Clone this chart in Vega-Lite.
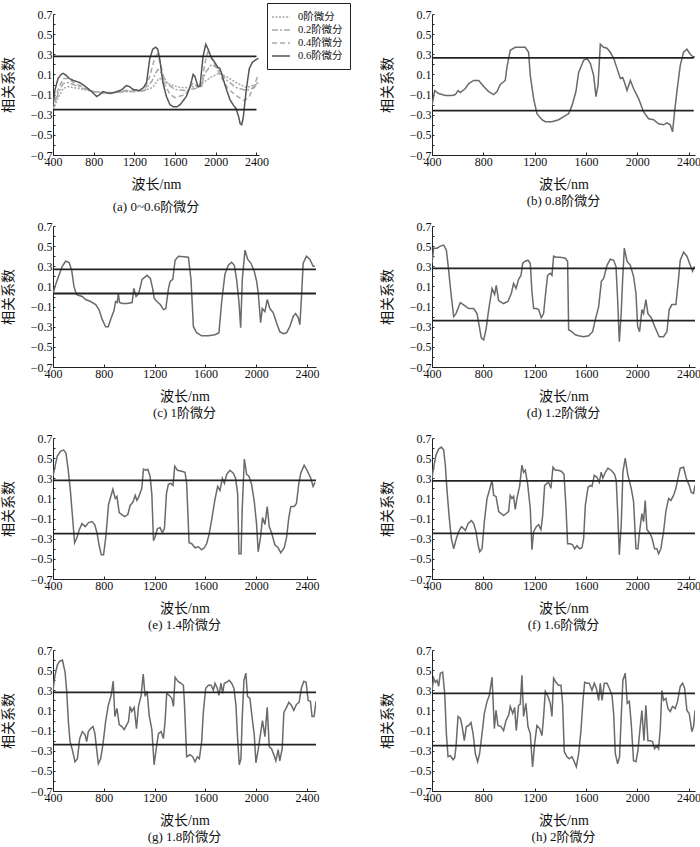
{
  "$schema": "https://vega.github.io/schema/vega-lite/v6.json",
  "background": "white",
  "padding": {"left": 1, "top": 2, "right": 2, "bottom": 1},
  "config": {
    "view": {"stroke": null},
    "font": "Liberation Serif, Noto Sans CJK SC",
    "axis": {"grid": false, "domainColor": "#222", "tickColor": "#222", "labelFont": "Liberation Serif", "labelFontSize": 12, "labelColor": "#111", "titleFont": "Liberation Serif, Noto Sans CJK SC", "titleFontSize": 14, "titleFontWeight": "normal", "titleColor": "#111", "domainWidth": 1, "labelOverlap": false, "tickCount": 20},
    "title": {"font": "Liberation Serif, Noto Sans CJK SC", "fontSize": 13, "fontWeight": "normal", "orient": "bottom", "anchor": "middle", "color": "#111", "offset": 4},
    "line": {"color": "#6a6a6a", "strokeWidth": 1.5, "clip": true},
    "rule": {"color": "#222", "strokeWidth": 1.8}
  },
  "datasets": {
    "th": [
      {"p": "a", "x0": 400, "x1": 2400, "y": 0.28}, {"p": "a", "x0": 400, "x1": 2400, "y": -0.25},
      {"p": "b", "x0": 400, "x1": 2440, "y": 0.265}, {"p": "b", "x0": 400, "x1": 2440, "y": -0.26},
      {"p": "c", "x0": 400, "x1": 2470, "y": 0.27}, {"p": "c", "x0": 400, "x1": 2470, "y": 0.03},
      {"p": "d", "x0": 400, "x1": 2450, "y": 0.28}, {"p": "d", "x0": 400, "x1": 2450, "y": -0.24},
      {"p": "e", "x0": 400, "x1": 2470, "y": 0.28}, {"p": "e", "x0": 400, "x1": 2470, "y": -0.25},
      {"p": "f", "x0": 400, "x1": 2450, "y": 0.275}, {"p": "f", "x0": 400, "x1": 2450, "y": -0.247},
      {"p": "g", "x0": 400, "x1": 2470, "y": 0.28}, {"p": "g", "x0": 400, "x1": 2470, "y": -0.24},
      {"p": "h", "x0": 400, "x1": 2450, "y": 0.27}, {"p": "h", "x0": 400, "x1": 2450, "y": -0.25}
    ],
    "a": [
      {"s": "0阶微分", "x": 400, "y": -0.25}, {"s": "0阶微分", "x": 450, "y": -0.13}, {"s": "0阶微分", "x": 500, "y": -0.04}, {"s": "0阶微分", "x": 550, "y": -0.02}, {"s": "0阶微分", "x": 600, "y": -0.03}, {"s": "0阶微分", "x": 700, "y": -0.05}, {"s": "0阶微分", "x": 800, "y": -0.07}, {"s": "0阶微分", "x": 900, "y": -0.08}, {"s": "0阶微分", "x": 1000, "y": -0.08}, {"s": "0阶微分", "x": 1100, "y": -0.07}, {"s": "0阶微分", "x": 1200, "y": -0.07}, {"s": "0阶微分", "x": 1300, "y": -0.06}, {"s": "0阶微分", "x": 1380, "y": -0.03}, {"s": "0阶微分", "x": 1440, "y": 0.06}, {"s": "0阶微分", "x": 1480, "y": 0.05}, {"s": "0阶微分", "x": 1550, "y": 0.0}, {"s": "0阶微分", "x": 1650, "y": -0.03}, {"s": "0阶微分", "x": 1750, "y": -0.03}, {"s": "0阶微分", "x": 1850, "y": 0.0}, {"s": "0阶微分", "x": 1950, "y": 0.07}, {"s": "0阶微分", "x": 2030, "y": 0.11}, {"s": "0阶微分", "x": 2100, "y": 0.08}, {"s": "0阶微分", "x": 2200, "y": 0.02}, {"s": "0阶微分", "x": 2300, "y": -0.03}, {"s": "0阶微分", "x": 2400, "y": 0.0}, {"s": "0阶微分", "x": 2420, "y": 0.01},
      {"s": "0.2阶微分", "x": 400, "y": -0.25}, {"s": "0.2阶微分", "x": 450, "y": -0.09}, {"s": "0.2阶微分", "x": 500, "y": 0.01}, {"s": "0.2阶微分", "x": 550, "y": 0.02}, {"s": "0.2阶微分", "x": 600, "y": 0.0}, {"s": "0.2阶微分", "x": 700, "y": -0.04}, {"s": "0.2阶微分", "x": 800, "y": -0.07}, {"s": "0.2阶微分", "x": 900, "y": -0.08}, {"s": "0.2阶微分", "x": 1000, "y": -0.08}, {"s": "0.2阶微分", "x": 1100, "y": -0.07}, {"s": "0.2阶微分", "x": 1200, "y": -0.07}, {"s": "0.2阶微分", "x": 1300, "y": -0.06}, {"s": "0.2阶微分", "x": 1370, "y": 0.03}, {"s": "0.2阶微分", "x": 1430, "y": 0.15}, {"s": "0.2阶微分", "x": 1470, "y": 0.11}, {"s": "0.2阶微分", "x": 1530, "y": 0.0}, {"s": "0.2阶微分", "x": 1600, "y": -0.05}, {"s": "0.2阶微分", "x": 1700, "y": -0.06}, {"s": "0.2阶微分", "x": 1800, "y": -0.04}, {"s": "0.2阶微分", "x": 1860, "y": 0.0}, {"s": "0.2阶微分", "x": 1900, "y": 0.12}, {"s": "0.2阶微分", "x": 1960, "y": 0.2}, {"s": "0.2阶微分", "x": 2020, "y": 0.16}, {"s": "0.2阶微分", "x": 2100, "y": 0.05}, {"s": "0.2阶微分", "x": 2200, "y": -0.03}, {"s": "0.2阶微分", "x": 2300, "y": -0.06}, {"s": "0.2阶微分", "x": 2380, "y": -0.03}, {"s": "0.2阶微分", "x": 2420, "y": 0.04},
      {"s": "0.4阶微分", "x": 400, "y": -0.24}, {"s": "0.4阶微分", "x": 450, "y": -0.05}, {"s": "0.4阶微分", "x": 500, "y": 0.06}, {"s": "0.4阶微分", "x": 550, "y": 0.06}, {"s": "0.4阶微分", "x": 600, "y": 0.02}, {"s": "0.4阶微分", "x": 700, "y": -0.03}, {"s": "0.4阶微分", "x": 800, "y": -0.07}, {"s": "0.4阶微分", "x": 900, "y": -0.09}, {"s": "0.4阶微分", "x": 1000, "y": -0.08}, {"s": "0.4阶微分", "x": 1100, "y": -0.06}, {"s": "0.4阶微分", "x": 1200, "y": -0.06}, {"s": "0.4阶微分", "x": 1300, "y": -0.06}, {"s": "0.4阶微分", "x": 1350, "y": 0.08}, {"s": "0.4阶微分", "x": 1400, "y": 0.26}, {"s": "0.4阶微分", "x": 1425, "y": 0.3}, {"s": "0.4阶微分", "x": 1460, "y": 0.2}, {"s": "0.4阶微分", "x": 1500, "y": 0.0}, {"s": "0.4阶微分", "x": 1550, "y": -0.1}, {"s": "0.4阶微分", "x": 1600, "y": -0.13}, {"s": "0.4阶微分", "x": 1700, "y": -0.1}, {"s": "0.4阶微分", "x": 1780, "y": 0.02}, {"s": "0.4阶微分", "x": 1830, "y": -0.03}, {"s": "0.4阶微分", "x": 1860, "y": -0.03}, {"s": "0.4阶微分", "x": 1890, "y": 0.2}, {"s": "0.4阶微分", "x": 1920, "y": 0.32}, {"s": "0.4阶微分", "x": 1960, "y": 0.26}, {"s": "0.4阶微分", "x": 2010, "y": 0.16}, {"s": "0.4阶微分", "x": 2060, "y": 0.06}, {"s": "0.4阶微分", "x": 2120, "y": -0.04}, {"s": "0.4阶微分", "x": 2200, "y": -0.11}, {"s": "0.4阶微分", "x": 2280, "y": -0.16}, {"s": "0.4阶微分", "x": 2330, "y": -0.12}, {"s": "0.4阶微分", "x": 2380, "y": 0.0}, {"s": "0.4阶微分", "x": 2420, "y": 0.1},
      {"s": "0.6阶微分", "x": 400, "y": -0.22}, {"s": "0.6阶微分", "x": 420, "y": -0.05}, {"s": "0.6阶微分", "x": 450, "y": 0.06}, {"s": "0.6阶微分", "x": 480, "y": 0.1}, {"s": "0.6阶微分", "x": 500, "y": 0.11}, {"s": "0.6阶微分", "x": 530, "y": 0.09}, {"s": "0.6阶微分", "x": 560, "y": 0.06}, {"s": "0.6阶微分", "x": 600, "y": 0.04}, {"s": "0.6阶微分", "x": 660, "y": 0.02}, {"s": "0.6阶微分", "x": 720, "y": -0.02}, {"s": "0.6阶微分", "x": 790, "y": -0.08}, {"s": "0.6阶微分", "x": 830, "y": -0.12}, {"s": "0.6阶微分", "x": 860, "y": -0.1}, {"s": "0.6阶微分", "x": 890, "y": -0.07}, {"s": "0.6阶微分", "x": 920, "y": -0.08}, {"s": "0.6阶微分", "x": 960, "y": -0.09}, {"s": "0.6阶微分", "x": 1000, "y": -0.08}, {"s": "0.6阶微分", "x": 1030, "y": -0.07}, {"s": "0.6阶微分", "x": 1080, "y": -0.05}, {"s": "0.6阶微分", "x": 1120, "y": -0.01}, {"s": "0.6阶微分", "x": 1150, "y": -0.02}, {"s": "0.6阶微分", "x": 1190, "y": -0.05}, {"s": "0.6阶微分", "x": 1250, "y": -0.06}, {"s": "0.6阶微分", "x": 1290, "y": -0.03}, {"s": "0.6阶微分", "x": 1320, "y": 0.02}, {"s": "0.6阶微分", "x": 1350, "y": 0.25}, {"s": "0.6阶微分", "x": 1380, "y": 0.35}, {"s": "0.6阶微分", "x": 1410, "y": 0.37}, {"s": "0.6阶微分", "x": 1430, "y": 0.35}, {"s": "0.6阶微分", "x": 1450, "y": 0.25}, {"s": "0.6阶微分", "x": 1480, "y": 0.02}, {"s": "0.6阶微分", "x": 1515, "y": -0.12}, {"s": "0.6阶微分", "x": 1550, "y": -0.2}, {"s": "0.6阶微分", "x": 1580, "y": -0.22}, {"s": "0.6阶微分", "x": 1620, "y": -0.22}, {"s": "0.6阶微分", "x": 1650, "y": -0.2}, {"s": "0.6阶微分", "x": 1710, "y": -0.12}, {"s": "0.6阶微分", "x": 1745, "y": -0.03}, {"s": "0.6阶微分", "x": 1778, "y": 0.1}, {"s": "0.6阶微分", "x": 1795, "y": 0.08}, {"s": "0.6阶微分", "x": 1825, "y": -0.02}, {"s": "0.6阶微分", "x": 1845, "y": -0.02}, {"s": "0.6阶微分", "x": 1875, "y": 0.28}, {"s": "0.6阶微分", "x": 1902, "y": 0.4}, {"s": "0.6阶微分", "x": 1925, "y": 0.35}, {"s": "0.6阶微分", "x": 1955, "y": 0.27}, {"s": "0.6阶微分", "x": 1990, "y": 0.22}, {"s": "0.6阶微分", "x": 2020, "y": 0.17}, {"s": "0.6阶微分", "x": 2040, "y": 0.16}, {"s": "0.6阶微分", "x": 2060, "y": 0.1}, {"s": "0.6阶微分", "x": 2105, "y": -0.05}, {"s": "0.6阶微分", "x": 2140, "y": -0.15}, {"s": "0.6阶微分", "x": 2170, "y": -0.2}, {"s": "0.6阶微分", "x": 2200, "y": -0.24}, {"s": "0.6阶微分", "x": 2225, "y": -0.32}, {"s": "0.6阶微分", "x": 2240, "y": -0.39}, {"s": "0.6阶微分", "x": 2255, "y": -0.4}, {"s": "0.6阶微分", "x": 2270, "y": -0.33}, {"s": "0.6阶微分", "x": 2300, "y": -0.05}, {"s": "0.6阶微分", "x": 2330, "y": 0.16}, {"s": "0.6阶微分", "x": 2360, "y": 0.22}, {"s": "0.6阶微分", "x": 2400, "y": 0.25}, {"s": "0.6阶微分", "x": 2420, "y": 0.26}
    ],
    "b": [
      {"x": 400, "y": -0.21}, {"x": 421, "y": -0.06}, {"x": 452, "y": -0.09}, {"x": 504, "y": -0.11}, {"x": 556, "y": -0.11}, {"x": 582, "y": -0.1}, {"x": 603, "y": -0.06}, {"x": 621, "y": -0.08}, {"x": 660, "y": -0.04}, {"x": 686, "y": 0.01}, {"x": 725, "y": 0.04}, {"x": 764, "y": 0.04}, {"x": 803, "y": -0.02}, {"x": 842, "y": -0.07}, {"x": 881, "y": -0.1}, {"x": 907, "y": -0.07}, {"x": 932, "y": 0.0}, {"x": 971, "y": 0.04}, {"x": 984, "y": 0.17}, {"x": 1010, "y": 0.34}, {"x": 1049, "y": 0.37}, {"x": 1127, "y": 0.37}, {"x": 1153, "y": 0.32}, {"x": 1166, "y": 0.09}, {"x": 1192, "y": -0.14}, {"x": 1218, "y": -0.29}, {"x": 1257, "y": -0.35}, {"x": 1283, "y": -0.37}, {"x": 1335, "y": -0.37}, {"x": 1387, "y": -0.35}, {"x": 1439, "y": -0.31}, {"x": 1465, "y": -0.29}, {"x": 1491, "y": -0.21}, {"x": 1522, "y": -0.07}, {"x": 1543, "y": 0.12}, {"x": 1582, "y": 0.24}, {"x": 1608, "y": 0.26}, {"x": 1634, "y": 0.21}, {"x": 1660, "y": 0.09}, {"x": 1678, "y": -0.12}, {"x": 1694, "y": -0.01}, {"x": 1712, "y": 0.4}, {"x": 1738, "y": 0.37}, {"x": 1764, "y": 0.36}, {"x": 1790, "y": 0.32}, {"x": 1816, "y": 0.26}, {"x": 1842, "y": 0.16}, {"x": 1868, "y": 0.06}, {"x": 1886, "y": 0.07}, {"x": 1901, "y": 0.02}, {"x": 1920, "y": -0.06}, {"x": 1946, "y": 0.04}, {"x": 1971, "y": -0.04}, {"x": 2010, "y": -0.14}, {"x": 2049, "y": -0.27}, {"x": 2088, "y": -0.34}, {"x": 2127, "y": -0.35}, {"x": 2166, "y": -0.39}, {"x": 2205, "y": -0.4}, {"x": 2231, "y": -0.38}, {"x": 2257, "y": -0.4}, {"x": 2275, "y": -0.47}, {"x": 2291, "y": -0.27}, {"x": 2309, "y": -0.07}, {"x": 2335, "y": 0.19}, {"x": 2361, "y": 0.32}, {"x": 2387, "y": 0.35}, {"x": 2413, "y": 0.3}, {"x": 2439, "y": 0.27}, {"x": 2450, "y": 0.28}
    ],
    "c": [
      {"x": 400, "y": 0.03}, {"x": 421, "y": 0.12}, {"x": 447, "y": 0.21}, {"x": 473, "y": 0.3}, {"x": 499, "y": 0.35}, {"x": 526, "y": 0.34}, {"x": 547, "y": 0.26}, {"x": 565, "y": 0.1}, {"x": 584, "y": 0.02}, {"x": 605, "y": 0.01}, {"x": 631, "y": 0.0}, {"x": 657, "y": -0.03}, {"x": 696, "y": -0.05}, {"x": 736, "y": -0.08}, {"x": 762, "y": -0.13}, {"x": 788, "y": -0.23}, {"x": 814, "y": -0.3}, {"x": 835, "y": -0.3}, {"x": 853, "y": -0.23}, {"x": 880, "y": -0.14}, {"x": 893, "y": -0.05}, {"x": 906, "y": -0.06}, {"x": 914, "y": 0.03}, {"x": 924, "y": -0.06}, {"x": 945, "y": -0.07}, {"x": 984, "y": -0.07}, {"x": 1023, "y": -0.06}, {"x": 1036, "y": 0.08}, {"x": 1054, "y": 0.0}, {"x": 1075, "y": 0.03}, {"x": 1101, "y": 0.17}, {"x": 1140, "y": 0.21}, {"x": 1166, "y": 0.18}, {"x": 1184, "y": 0.08}, {"x": 1197, "y": -0.02}, {"x": 1218, "y": -0.05}, {"x": 1244, "y": -0.08}, {"x": 1270, "y": -0.13}, {"x": 1288, "y": -0.12}, {"x": 1309, "y": 0.08}, {"x": 1322, "y": 0.15}, {"x": 1343, "y": 0.17}, {"x": 1361, "y": 0.36}, {"x": 1387, "y": 0.4}, {"x": 1466, "y": 0.39}, {"x": 1486, "y": 0.17}, {"x": 1505, "y": -0.3}, {"x": 1531, "y": -0.36}, {"x": 1570, "y": -0.39}, {"x": 1623, "y": -0.39}, {"x": 1675, "y": -0.38}, {"x": 1706, "y": -0.36}, {"x": 1727, "y": -0.06}, {"x": 1753, "y": 0.22}, {"x": 1780, "y": 0.31}, {"x": 1806, "y": 0.34}, {"x": 1827, "y": 0.31}, {"x": 1845, "y": 0.17}, {"x": 1864, "y": -0.06}, {"x": 1877, "y": -0.31}, {"x": 1890, "y": 0.17}, {"x": 1911, "y": 0.46}, {"x": 1932, "y": 0.37}, {"x": 1958, "y": 0.33}, {"x": 1984, "y": 0.25}, {"x": 2003, "y": 0.15}, {"x": 2016, "y": 0.03}, {"x": 2034, "y": -0.26}, {"x": 2047, "y": -0.12}, {"x": 2068, "y": -0.15}, {"x": 2086, "y": -0.03}, {"x": 2107, "y": -0.12}, {"x": 2133, "y": -0.16}, {"x": 2159, "y": -0.26}, {"x": 2185, "y": -0.35}, {"x": 2212, "y": -0.37}, {"x": 2238, "y": -0.36}, {"x": 2264, "y": -0.3}, {"x": 2290, "y": -0.2}, {"x": 2309, "y": -0.17}, {"x": 2330, "y": -0.21}, {"x": 2343, "y": -0.28}, {"x": 2356, "y": 0.0}, {"x": 2369, "y": 0.33}, {"x": 2395, "y": 0.4}, {"x": 2421, "y": 0.37}, {"x": 2448, "y": 0.3}, {"x": 2461, "y": 0.3}
    ],
    "d": [
      {"x": 400, "y": 0.33}, {"x": 413, "y": 0.48}, {"x": 439, "y": 0.48}, {"x": 465, "y": 0.5}, {"x": 491, "y": 0.51}, {"x": 512, "y": 0.46}, {"x": 530, "y": 0.26}, {"x": 548, "y": 0.03}, {"x": 569, "y": -0.2}, {"x": 587, "y": -0.17}, {"x": 621, "y": -0.06}, {"x": 655, "y": -0.09}, {"x": 686, "y": -0.12}, {"x": 725, "y": -0.12}, {"x": 751, "y": -0.17}, {"x": 769, "y": -0.3}, {"x": 784, "y": -0.41}, {"x": 803, "y": -0.43}, {"x": 821, "y": -0.33}, {"x": 842, "y": -0.13}, {"x": 868, "y": 0.08}, {"x": 888, "y": 0.02}, {"x": 901, "y": 0.11}, {"x": 919, "y": -0.04}, {"x": 958, "y": -0.07}, {"x": 992, "y": -0.05}, {"x": 1018, "y": 0.03}, {"x": 1036, "y": 0.13}, {"x": 1055, "y": 0.08}, {"x": 1075, "y": 0.17}, {"x": 1094, "y": 0.21}, {"x": 1107, "y": 0.33}, {"x": 1127, "y": 0.35}, {"x": 1148, "y": 0.36}, {"x": 1166, "y": 0.33}, {"x": 1179, "y": 0.05}, {"x": 1192, "y": -0.12}, {"x": 1213, "y": -0.12}, {"x": 1231, "y": -0.13}, {"x": 1252, "y": -0.21}, {"x": 1270, "y": -0.17}, {"x": 1283, "y": 0.0}, {"x": 1301, "y": 0.21}, {"x": 1322, "y": 0.23}, {"x": 1335, "y": 0.21}, {"x": 1348, "y": 0.4}, {"x": 1366, "y": 0.39}, {"x": 1400, "y": 0.39}, {"x": 1439, "y": 0.38}, {"x": 1457, "y": 0.35}, {"x": 1465, "y": -0.33}, {"x": 1491, "y": -0.35}, {"x": 1517, "y": -0.38}, {"x": 1543, "y": -0.39}, {"x": 1582, "y": -0.4}, {"x": 1621, "y": -0.39}, {"x": 1652, "y": -0.35}, {"x": 1673, "y": -0.23}, {"x": 1699, "y": -0.1}, {"x": 1720, "y": 0.15}, {"x": 1738, "y": 0.18}, {"x": 1764, "y": 0.31}, {"x": 1790, "y": 0.37}, {"x": 1816, "y": 0.36}, {"x": 1834, "y": 0.3}, {"x": 1847, "y": -0.03}, {"x": 1860, "y": -0.45}, {"x": 1875, "y": -0.16}, {"x": 1886, "y": 0.17}, {"x": 1899, "y": 0.48}, {"x": 1920, "y": 0.35}, {"x": 1946, "y": 0.31}, {"x": 1971, "y": 0.2}, {"x": 1990, "y": 0.03}, {"x": 2003, "y": -0.3}, {"x": 2018, "y": -0.35}, {"x": 2036, "y": -0.13}, {"x": 2049, "y": -0.17}, {"x": 2067, "y": -0.03}, {"x": 2083, "y": -0.17}, {"x": 2109, "y": -0.21}, {"x": 2140, "y": -0.31}, {"x": 2171, "y": -0.4}, {"x": 2205, "y": -0.4}, {"x": 2231, "y": -0.35}, {"x": 2249, "y": -0.13}, {"x": 2270, "y": -0.08}, {"x": 2301, "y": -0.08}, {"x": 2322, "y": 0.18}, {"x": 2335, "y": 0.36}, {"x": 2361, "y": 0.44}, {"x": 2387, "y": 0.4}, {"x": 2413, "y": 0.31}, {"x": 2431, "y": 0.25}, {"x": 2447, "y": 0.3}
    ],
    "e": [
      {"x": 400, "y": 0.32}, {"x": 416, "y": 0.42}, {"x": 434, "y": 0.52}, {"x": 460, "y": 0.57}, {"x": 484, "y": 0.58}, {"x": 502, "y": 0.55}, {"x": 518, "y": 0.4}, {"x": 536, "y": 0.19}, {"x": 554, "y": -0.09}, {"x": 570, "y": -0.34}, {"x": 588, "y": -0.29}, {"x": 607, "y": -0.21}, {"x": 628, "y": -0.15}, {"x": 654, "y": -0.18}, {"x": 680, "y": -0.14}, {"x": 707, "y": -0.13}, {"x": 728, "y": -0.16}, {"x": 746, "y": -0.24}, {"x": 764, "y": -0.37}, {"x": 780, "y": -0.46}, {"x": 798, "y": -0.46}, {"x": 816, "y": -0.28}, {"x": 837, "y": 0.04}, {"x": 871, "y": 0.19}, {"x": 890, "y": 0.1}, {"x": 903, "y": 0.12}, {"x": 921, "y": -0.04}, {"x": 942, "y": -0.06}, {"x": 963, "y": -0.08}, {"x": 989, "y": -0.06}, {"x": 1007, "y": 0.03}, {"x": 1028, "y": 0.06}, {"x": 1047, "y": 0.13}, {"x": 1060, "y": 0.08}, {"x": 1073, "y": 0.11}, {"x": 1099, "y": 0.2}, {"x": 1112, "y": 0.39}, {"x": 1130, "y": 0.38}, {"x": 1146, "y": 0.39}, {"x": 1164, "y": 0.32}, {"x": 1178, "y": 0.14}, {"x": 1191, "y": -0.32}, {"x": 1204, "y": -0.28}, {"x": 1222, "y": -0.2}, {"x": 1243, "y": -0.19}, {"x": 1261, "y": -0.24}, {"x": 1277, "y": -0.2}, {"x": 1293, "y": 0.15}, {"x": 1308, "y": 0.24}, {"x": 1327, "y": 0.25}, {"x": 1345, "y": 0.23}, {"x": 1358, "y": 0.42}, {"x": 1379, "y": 0.38}, {"x": 1413, "y": 0.37}, {"x": 1439, "y": 0.36}, {"x": 1452, "y": 0.25}, {"x": 1471, "y": -0.34}, {"x": 1492, "y": -0.35}, {"x": 1518, "y": -0.39}, {"x": 1544, "y": -0.38}, {"x": 1570, "y": -0.41}, {"x": 1591, "y": -0.39}, {"x": 1609, "y": -0.35}, {"x": 1628, "y": -0.26}, {"x": 1649, "y": -0.11}, {"x": 1675, "y": 0.09}, {"x": 1696, "y": 0.22}, {"x": 1714, "y": 0.18}, {"x": 1733, "y": 0.3}, {"x": 1749, "y": 0.25}, {"x": 1767, "y": 0.34}, {"x": 1793, "y": 0.38}, {"x": 1819, "y": 0.35}, {"x": 1837, "y": 0.3}, {"x": 1853, "y": 0.15}, {"x": 1864, "y": -0.45}, {"x": 1880, "y": -0.45}, {"x": 1890, "y": 0.02}, {"x": 1906, "y": 0.49}, {"x": 1924, "y": 0.34}, {"x": 1942, "y": 0.32}, {"x": 1963, "y": 0.24}, {"x": 1984, "y": 0.07}, {"x": 2002, "y": -0.15}, {"x": 2015, "y": -0.43}, {"x": 2034, "y": -0.28}, {"x": 2049, "y": -0.09}, {"x": 2068, "y": -0.16}, {"x": 2086, "y": 0.02}, {"x": 2102, "y": -0.18}, {"x": 2120, "y": -0.24}, {"x": 2146, "y": -0.36}, {"x": 2172, "y": -0.39}, {"x": 2193, "y": -0.44}, {"x": 2220, "y": -0.39}, {"x": 2238, "y": -0.29}, {"x": 2256, "y": -0.09}, {"x": 2272, "y": 0.02}, {"x": 2298, "y": 0.02}, {"x": 2316, "y": 0.05}, {"x": 2335, "y": 0.25}, {"x": 2350, "y": 0.35}, {"x": 2377, "y": 0.43}, {"x": 2403, "y": 0.37}, {"x": 2429, "y": 0.3}, {"x": 2447, "y": 0.22}, {"x": 2462, "y": 0.26}
    ],
    "f": [
      {"x": 400, "y": 0.3}, {"x": 413, "y": 0.41}, {"x": 431, "y": 0.53}, {"x": 452, "y": 0.59}, {"x": 473, "y": 0.61}, {"x": 491, "y": 0.58}, {"x": 504, "y": 0.43}, {"x": 517, "y": 0.18}, {"x": 535, "y": -0.1}, {"x": 551, "y": -0.3}, {"x": 569, "y": -0.4}, {"x": 587, "y": -0.31}, {"x": 608, "y": -0.23}, {"x": 629, "y": -0.18}, {"x": 647, "y": -0.2}, {"x": 660, "y": -0.22}, {"x": 681, "y": -0.15}, {"x": 707, "y": -0.12}, {"x": 725, "y": -0.15}, {"x": 743, "y": -0.23}, {"x": 759, "y": -0.36}, {"x": 772, "y": -0.43}, {"x": 790, "y": -0.4}, {"x": 808, "y": -0.13}, {"x": 829, "y": 0.1}, {"x": 847, "y": 0.18}, {"x": 868, "y": 0.28}, {"x": 881, "y": 0.13}, {"x": 899, "y": 0.12}, {"x": 920, "y": -0.03}, {"x": 940, "y": -0.05}, {"x": 958, "y": -0.07}, {"x": 979, "y": -0.05}, {"x": 997, "y": -0.03}, {"x": 1010, "y": 0.13}, {"x": 1023, "y": 0.1}, {"x": 1036, "y": 0.12}, {"x": 1049, "y": -0.01}, {"x": 1062, "y": 0.1}, {"x": 1083, "y": 0.22}, {"x": 1101, "y": 0.43}, {"x": 1114, "y": 0.36}, {"x": 1127, "y": 0.38}, {"x": 1145, "y": 0.25}, {"x": 1166, "y": 0.0}, {"x": 1179, "y": -0.41}, {"x": 1192, "y": -0.23}, {"x": 1213, "y": -0.18}, {"x": 1231, "y": -0.16}, {"x": 1249, "y": -0.21}, {"x": 1262, "y": -0.08}, {"x": 1278, "y": 0.23}, {"x": 1296, "y": 0.25}, {"x": 1309, "y": 0.26}, {"x": 1327, "y": 0.2}, {"x": 1343, "y": 0.41}, {"x": 1361, "y": 0.38}, {"x": 1382, "y": 0.38}, {"x": 1408, "y": 0.37}, {"x": 1429, "y": 0.34}, {"x": 1444, "y": 0.02}, {"x": 1457, "y": -0.35}, {"x": 1478, "y": -0.35}, {"x": 1496, "y": -0.36}, {"x": 1512, "y": -0.4}, {"x": 1530, "y": -0.37}, {"x": 1551, "y": -0.4}, {"x": 1569, "y": -0.39}, {"x": 1582, "y": -0.3}, {"x": 1595, "y": 0.03}, {"x": 1616, "y": 0.21}, {"x": 1634, "y": 0.23}, {"x": 1647, "y": 0.22}, {"x": 1665, "y": 0.33}, {"x": 1686, "y": 0.31}, {"x": 1704, "y": 0.26}, {"x": 1719, "y": 0.36}, {"x": 1732, "y": 0.3}, {"x": 1751, "y": 0.36}, {"x": 1771, "y": 0.4}, {"x": 1797, "y": 0.38}, {"x": 1823, "y": 0.34}, {"x": 1836, "y": 0.28}, {"x": 1847, "y": -0.03}, {"x": 1860, "y": -0.46}, {"x": 1875, "y": -0.16}, {"x": 1888, "y": 0.36}, {"x": 1906, "y": 0.5}, {"x": 1927, "y": 0.33}, {"x": 1953, "y": 0.2}, {"x": 1971, "y": 0.07}, {"x": 1990, "y": -0.4}, {"x": 2005, "y": -0.4}, {"x": 2018, "y": -0.23}, {"x": 2036, "y": -0.05}, {"x": 2049, "y": -0.13}, {"x": 2062, "y": 0.08}, {"x": 2075, "y": -0.21}, {"x": 2096, "y": -0.24}, {"x": 2114, "y": -0.29}, {"x": 2135, "y": -0.4}, {"x": 2153, "y": -0.4}, {"x": 2166, "y": -0.45}, {"x": 2184, "y": -0.4}, {"x": 2205, "y": -0.23}, {"x": 2223, "y": -0.03}, {"x": 2244, "y": 0.1}, {"x": 2262, "y": 0.08}, {"x": 2283, "y": 0.13}, {"x": 2301, "y": 0.2}, {"x": 2317, "y": 0.3}, {"x": 2335, "y": 0.4}, {"x": 2361, "y": 0.41}, {"x": 2382, "y": 0.3}, {"x": 2405, "y": 0.23}, {"x": 2421, "y": 0.16}, {"x": 2439, "y": 0.15}, {"x": 2450, "y": 0.23}
    ],
    "g": [
      {"x": 400, "y": 0.3}, {"x": 416, "y": 0.45}, {"x": 434, "y": 0.55}, {"x": 453, "y": 0.59}, {"x": 474, "y": 0.6}, {"x": 495, "y": 0.48}, {"x": 508, "y": 0.29}, {"x": 521, "y": -0.01}, {"x": 534, "y": -0.21}, {"x": 552, "y": -0.29}, {"x": 573, "y": -0.41}, {"x": 592, "y": -0.38}, {"x": 610, "y": -0.18}, {"x": 631, "y": -0.11}, {"x": 652, "y": -0.14}, {"x": 665, "y": -0.21}, {"x": 678, "y": -0.11}, {"x": 696, "y": -0.08}, {"x": 715, "y": -0.06}, {"x": 730, "y": -0.13}, {"x": 743, "y": -0.28}, {"x": 757, "y": -0.43}, {"x": 775, "y": -0.38}, {"x": 793, "y": -0.24}, {"x": 814, "y": -0.01}, {"x": 835, "y": 0.15}, {"x": 858, "y": 0.25}, {"x": 874, "y": 0.39}, {"x": 887, "y": 0.04}, {"x": 903, "y": 0.12}, {"x": 921, "y": -0.04}, {"x": 942, "y": -0.06}, {"x": 960, "y": -0.09}, {"x": 981, "y": -0.04}, {"x": 994, "y": -0.01}, {"x": 1007, "y": 0.14}, {"x": 1020, "y": 0.09}, {"x": 1039, "y": 0.13}, {"x": 1057, "y": -0.08}, {"x": 1073, "y": 0.14}, {"x": 1094, "y": 0.25}, {"x": 1110, "y": 0.46}, {"x": 1125, "y": 0.24}, {"x": 1141, "y": 0.29}, {"x": 1157, "y": 0.05}, {"x": 1178, "y": -0.09}, {"x": 1196, "y": -0.44}, {"x": 1209, "y": -0.31}, {"x": 1230, "y": -0.13}, {"x": 1251, "y": -0.11}, {"x": 1269, "y": -0.18}, {"x": 1282, "y": -0.01}, {"x": 1295, "y": 0.27}, {"x": 1314, "y": 0.25}, {"x": 1335, "y": 0.22}, {"x": 1348, "y": 0.14}, {"x": 1361, "y": 0.43}, {"x": 1382, "y": 0.39}, {"x": 1408, "y": 0.37}, {"x": 1426, "y": 0.35}, {"x": 1434, "y": 0.19}, {"x": 1452, "y": -0.36}, {"x": 1478, "y": -0.34}, {"x": 1499, "y": -0.36}, {"x": 1518, "y": -0.41}, {"x": 1536, "y": -0.36}, {"x": 1552, "y": -0.38}, {"x": 1570, "y": -0.21}, {"x": 1583, "y": 0.08}, {"x": 1602, "y": 0.32}, {"x": 1623, "y": 0.35}, {"x": 1644, "y": 0.35}, {"x": 1662, "y": 0.3}, {"x": 1675, "y": 0.37}, {"x": 1693, "y": 0.32}, {"x": 1706, "y": 0.25}, {"x": 1722, "y": 0.37}, {"x": 1735, "y": 0.27}, {"x": 1748, "y": 0.37}, {"x": 1767, "y": 0.38}, {"x": 1787, "y": 0.4}, {"x": 1806, "y": 0.37}, {"x": 1824, "y": 0.32}, {"x": 1840, "y": 0.15}, {"x": 1853, "y": -0.18}, {"x": 1866, "y": -0.44}, {"x": 1879, "y": -0.38}, {"x": 1890, "y": 0.05}, {"x": 1903, "y": 0.4}, {"x": 1918, "y": 0.47}, {"x": 1931, "y": 0.24}, {"x": 1950, "y": 0.22}, {"x": 1968, "y": 0.02}, {"x": 1984, "y": -0.14}, {"x": 1997, "y": -0.42}, {"x": 2015, "y": -0.29}, {"x": 2036, "y": -0.11}, {"x": 2049, "y": 0.0}, {"x": 2068, "y": -0.16}, {"x": 2086, "y": 0.13}, {"x": 2102, "y": -0.26}, {"x": 2120, "y": -0.28}, {"x": 2141, "y": -0.35}, {"x": 2154, "y": -0.4}, {"x": 2172, "y": -0.29}, {"x": 2185, "y": -0.4}, {"x": 2204, "y": -0.28}, {"x": 2217, "y": 0.08}, {"x": 2238, "y": 0.13}, {"x": 2256, "y": 0.18}, {"x": 2277, "y": 0.15}, {"x": 2295, "y": 0.1}, {"x": 2316, "y": 0.16}, {"x": 2337, "y": 0.18}, {"x": 2355, "y": 0.32}, {"x": 2374, "y": 0.39}, {"x": 2392, "y": 0.38}, {"x": 2408, "y": 0.2}, {"x": 2426, "y": 0.19}, {"x": 2439, "y": 0.04}, {"x": 2455, "y": 0.04}, {"x": 2470, "y": 0.19}
    ],
    "h": [
      {"x": 400, "y": 0.3}, {"x": 413, "y": 0.42}, {"x": 426, "y": 0.38}, {"x": 439, "y": 0.4}, {"x": 452, "y": 0.34}, {"x": 465, "y": 0.47}, {"x": 483, "y": 0.48}, {"x": 499, "y": 0.27}, {"x": 512, "y": -0.13}, {"x": 525, "y": -0.36}, {"x": 543, "y": -0.35}, {"x": 564, "y": -0.39}, {"x": 577, "y": -0.37}, {"x": 587, "y": -0.26}, {"x": 603, "y": 0.04}, {"x": 621, "y": 0.02}, {"x": 634, "y": -0.05}, {"x": 652, "y": -0.2}, {"x": 668, "y": -0.06}, {"x": 686, "y": -0.05}, {"x": 704, "y": -0.02}, {"x": 720, "y": -0.13}, {"x": 738, "y": -0.33}, {"x": 756, "y": -0.41}, {"x": 771, "y": -0.33}, {"x": 790, "y": -0.13}, {"x": 808, "y": 0.07}, {"x": 829, "y": 0.19}, {"x": 847, "y": 0.25}, {"x": 868, "y": 0.43}, {"x": 886, "y": -0.08}, {"x": 899, "y": 0.1}, {"x": 914, "y": -0.05}, {"x": 938, "y": -0.06}, {"x": 958, "y": -0.1}, {"x": 977, "y": 0.0}, {"x": 997, "y": 0.05}, {"x": 1010, "y": 0.14}, {"x": 1029, "y": 0.07}, {"x": 1044, "y": 0.13}, {"x": 1057, "y": -0.1}, {"x": 1075, "y": 0.15}, {"x": 1088, "y": 0.16}, {"x": 1101, "y": 0.45}, {"x": 1114, "y": 0.04}, {"x": 1132, "y": 0.17}, {"x": 1148, "y": -0.06}, {"x": 1166, "y": -0.13}, {"x": 1184, "y": -0.46}, {"x": 1200, "y": -0.23}, {"x": 1218, "y": -0.05}, {"x": 1239, "y": -0.08}, {"x": 1257, "y": -0.15}, {"x": 1270, "y": 0.04}, {"x": 1283, "y": 0.29}, {"x": 1304, "y": 0.24}, {"x": 1322, "y": 0.17}, {"x": 1335, "y": 0.04}, {"x": 1348, "y": 0.42}, {"x": 1366, "y": 0.38}, {"x": 1387, "y": 0.35}, {"x": 1405, "y": 0.35}, {"x": 1418, "y": 0.17}, {"x": 1431, "y": -0.31}, {"x": 1452, "y": -0.36}, {"x": 1470, "y": -0.38}, {"x": 1491, "y": -0.36}, {"x": 1509, "y": -0.41}, {"x": 1525, "y": -0.46}, {"x": 1543, "y": -0.33}, {"x": 1561, "y": -0.1}, {"x": 1577, "y": 0.2}, {"x": 1590, "y": 0.38}, {"x": 1608, "y": 0.37}, {"x": 1626, "y": 0.37}, {"x": 1647, "y": 0.3}, {"x": 1665, "y": 0.37}, {"x": 1681, "y": 0.32}, {"x": 1699, "y": 0.2}, {"x": 1712, "y": 0.37}, {"x": 1725, "y": 0.2}, {"x": 1743, "y": 0.37}, {"x": 1764, "y": 0.37}, {"x": 1782, "y": 0.32}, {"x": 1803, "y": 0.25}, {"x": 1816, "y": 0.07}, {"x": 1829, "y": -0.33}, {"x": 1847, "y": -0.43}, {"x": 1862, "y": -0.36}, {"x": 1875, "y": 0.04}, {"x": 1888, "y": 0.4}, {"x": 1906, "y": 0.47}, {"x": 1922, "y": 0.17}, {"x": 1938, "y": 0.19}, {"x": 1953, "y": -0.03}, {"x": 1971, "y": -0.4}, {"x": 1990, "y": -0.41}, {"x": 2005, "y": -0.3}, {"x": 2023, "y": -0.06}, {"x": 2036, "y": 0.1}, {"x": 2052, "y": -0.2}, {"x": 2067, "y": 0.15}, {"x": 2083, "y": -0.2}, {"x": 2101, "y": -0.2}, {"x": 2119, "y": -0.21}, {"x": 2135, "y": -0.28}, {"x": 2153, "y": -0.25}, {"x": 2166, "y": -0.28}, {"x": 2179, "y": -0.09}, {"x": 2192, "y": 0.3}, {"x": 2205, "y": 0.2}, {"x": 2223, "y": 0.22}, {"x": 2239, "y": 0.12}, {"x": 2257, "y": 0.09}, {"x": 2275, "y": 0.14}, {"x": 2296, "y": 0.12}, {"x": 2314, "y": 0.19}, {"x": 2335, "y": 0.34}, {"x": 2353, "y": 0.37}, {"x": 2369, "y": 0.32}, {"x": 2387, "y": 0.1}, {"x": 2405, "y": 0.07}, {"x": 2426, "y": -0.11}, {"x": 2439, "y": -0.06}, {"x": 2450, "y": 0.1}
    ]
  },
  "columns": 2,
  "bounds": "flush",
  "spacing": {"row": 71, "column": 116},
  "concat": [
    {
      "width": 206, "height": 141,
      "title": {"text": "(a) 0~0.6阶微分", "offset": 10},
      "layer": [
        {"data": {"name": "a"}, "mark": {"type": "line", "clip": true},
         "encoding": {
           "x": {"field": "x", "type": "quantitative", "scale": {"domain": [400, 2425], "nice": false, "zero": false}, "axis": {"values": [400, 800, 1200, 1600, 2000, 2400], "format": "d", "title": "波长/nm", "tickSize": -3, "tickCount": 20, "labelPadding": 4, "titlePadding": 10, "labelFlush": false, "labelOverlap": false}},
           "y": {"field": "y", "type": "quantitative", "scale": {"domain": [-0.7, 0.7], "nice": false}, "axis": {"values": [-0.7, -0.6, -0.5, -0.4, -0.3, -0.2, -0.1, 0, 0.1, 0.2, 0.3, 0.4, 0.5, 0.6, 0.7], "tickCount": 20, "labelExpr": "abs(round(datum.value*10)) % 2 == 1 ? format(datum.value, '.1f') : ''", "title": "相关系数", "tickSize": -2, "labelPadding": 3, "titlePadding": 15, "labelFlush": false, "labelOverlap": false}},
           "detail": {"field": "s"},
           "color": {"field": "s", "type": "nominal", "scale": {"domain": ["0阶微分", "0.2阶微分", "0.4阶微分", "0.6阶微分"], "range": ["#a8a8a8", "#a8a8a8", "#a8a8a8", "#555555"]},
             "legend": {"title": null, "orient": "none", "legendX": 214, "legendY": -11, "strokeColor": "#222", "fillColor": "white", "padding": 7, "labelFont": "Liberation Serif, Noto Sans CJK SC", "labelFontSize": 10.5, "labelColor": "#111", "rowPadding": 0, "symbolType": "M-1.5,0L1.5,0", "symbolSize": 144, "labelOffset": 10}},
           "strokeDash": {"field": "s", "type": "nominal", "scale": {"domain": ["0阶微分", "0.2阶微分", "0.4阶微分", "0.6阶微分"], "range": [[2, 1.5], [6, 2, 2, 2], [5, 3], [1, 0]]}},
           "strokeWidth": {"field": "s", "type": "nominal", "scale": {"domain": ["0阶微分", "0.2阶微分", "0.4阶微分", "0.6阶微分"], "range": [1.3, 1.3, 1.3, 2]}}
         }},
        {"data": {"name": "th"}, "transform": [{"filter": "datum.p == 'a'"}], "mark": {"type": "rule"},
         "encoding": {"x": {"field": "x0", "type": "quantitative"}, "x2": {"field": "x1"}, "y": {"field": "y", "type": "quantitative"}}}
      ]
    },
    {
      "width": 263, "height": 141,
      "title": {"text": "(b) 0.8阶微分"},
      "layer": [
        {"data": {"name": "b"}, "mark": {"type": "line", "clip": true},
         "encoding": {"x": {"field": "x", "type": "quantitative", "scale": {"domain": [400, 2450], "nice": false, "zero": false}, "axis": {"values": [400, 800, 1200, 1600, 2000, 2400], "format": "d", "title": "波长/nm", "tickSize": -3, "tickCount": 20, "labelPadding": 4, "titlePadding": 10, "labelFlush": false, "labelOverlap": false}}, "y": {"field": "y", "type": "quantitative", "scale": {"domain": [-0.7, 0.7], "nice": false}, "axis": {"values": [-0.7, -0.6, -0.5, -0.4, -0.3, -0.2, -0.1, 0, 0.1, 0.2, 0.3, 0.4, 0.5, 0.6, 0.7], "tickCount": 20, "labelExpr": "abs(round(datum.value*10)) % 2 == 1 ? format(datum.value, '.1f') : ''", "title": "相关系数", "tickSize": -2, "labelPadding": 3, "titlePadding": 15, "labelFlush": false, "labelOverlap": false}}}},
        {"data": {"name": "th"}, "transform": [{"filter": "datum.p == 'b'"}], "mark": {"type": "rule"},
         "encoding": {"x": {"field": "x0", "type": "quantitative"}, "x2": {"field": "x1"}, "y": {"field": "y", "type": "quantitative"}}}
      ]
    },
    {
      "width": 263, "height": 141,
      "title": {"text": "(c) 1阶微分"},
      "layer": [
        {"data": {"name": "c"}, "mark": {"type": "line", "clip": true},
         "encoding": {"x": {"field": "x", "type": "quantitative", "scale": {"domain": [400, 2470], "nice": false, "zero": false}, "axis": {"values": [400, 800, 1200, 1600, 2000, 2400], "format": "d", "title": "波长/nm", "tickSize": -3, "tickCount": 20, "labelPadding": 4, "titlePadding": 10, "labelFlush": false, "labelOverlap": false}}, "y": {"field": "y", "type": "quantitative", "scale": {"domain": [-0.7, 0.7], "nice": false}, "axis": {"values": [-0.7, -0.6, -0.5, -0.4, -0.3, -0.2, -0.1, 0, 0.1, 0.2, 0.3, 0.4, 0.5, 0.6, 0.7], "tickCount": 20, "labelExpr": "abs(round(datum.value*10)) % 2 == 1 ? format(datum.value, '.1f') : ''", "title": "相关系数", "tickSize": -2, "labelPadding": 3, "titlePadding": 15, "labelFlush": false, "labelOverlap": false}}}},
        {"data": {"name": "th"}, "transform": [{"filter": "datum.p == 'c'"}], "mark": {"type": "rule"},
         "encoding": {"x": {"field": "x0", "type": "quantitative"}, "x2": {"field": "x1"}, "y": {"field": "y", "type": "quantitative"}}}
      ]
    },
    {
      "width": 263, "height": 141,
      "title": {"text": "(d) 1.2阶微分"},
      "layer": [
        {"data": {"name": "d"}, "mark": {"type": "line", "clip": true},
         "encoding": {"x": {"field": "x", "type": "quantitative", "scale": {"domain": [400, 2450], "nice": false, "zero": false}, "axis": {"values": [400, 800, 1200, 1600, 2000, 2400], "format": "d", "title": "波长/nm", "tickSize": -3, "tickCount": 20, "labelPadding": 4, "titlePadding": 10, "labelFlush": false, "labelOverlap": false}}, "y": {"field": "y", "type": "quantitative", "scale": {"domain": [-0.7, 0.7], "nice": false}, "axis": {"values": [-0.7, -0.6, -0.5, -0.4, -0.3, -0.2, -0.1, 0, 0.1, 0.2, 0.3, 0.4, 0.5, 0.6, 0.7], "tickCount": 20, "labelExpr": "abs(round(datum.value*10)) % 2 == 1 ? format(datum.value, '.1f') : ''", "title": "相关系数", "tickSize": -2, "labelPadding": 3, "titlePadding": 15, "labelFlush": false, "labelOverlap": false}}}},
        {"data": {"name": "th"}, "transform": [{"filter": "datum.p == 'd'"}], "mark": {"type": "rule"},
         "encoding": {"x": {"field": "x0", "type": "quantitative"}, "x2": {"field": "x1"}, "y": {"field": "y", "type": "quantitative"}}}
      ]
    },
    {
      "width": 263, "height": 141,
      "title": {"text": "(e) 1.4阶微分"},
      "layer": [
        {"data": {"name": "e"}, "mark": {"type": "line", "clip": true},
         "encoding": {"x": {"field": "x", "type": "quantitative", "scale": {"domain": [400, 2470], "nice": false, "zero": false}, "axis": {"values": [400, 800, 1200, 1600, 2000, 2400], "format": "d", "title": "波长/nm", "tickSize": -3, "tickCount": 20, "labelPadding": 4, "titlePadding": 10, "labelFlush": false, "labelOverlap": false}}, "y": {"field": "y", "type": "quantitative", "scale": {"domain": [-0.7, 0.7], "nice": false}, "axis": {"values": [-0.7, -0.6, -0.5, -0.4, -0.3, -0.2, -0.1, 0, 0.1, 0.2, 0.3, 0.4, 0.5, 0.6, 0.7], "tickCount": 20, "labelExpr": "abs(round(datum.value*10)) % 2 == 1 ? format(datum.value, '.1f') : ''", "title": "相关系数", "tickSize": -2, "labelPadding": 3, "titlePadding": 15, "labelFlush": false, "labelOverlap": false}}}},
        {"data": {"name": "th"}, "transform": [{"filter": "datum.p == 'e'"}], "mark": {"type": "rule"},
         "encoding": {"x": {"field": "x0", "type": "quantitative"}, "x2": {"field": "x1"}, "y": {"field": "y", "type": "quantitative"}}}
      ]
    },
    {
      "width": 263, "height": 141,
      "title": {"text": "(f) 1.6阶微分"},
      "layer": [
        {"data": {"name": "f"}, "mark": {"type": "line", "clip": true},
         "encoding": {"x": {"field": "x", "type": "quantitative", "scale": {"domain": [400, 2450], "nice": false, "zero": false}, "axis": {"values": [400, 800, 1200, 1600, 2000, 2400], "format": "d", "title": "波长/nm", "tickSize": -3, "tickCount": 20, "labelPadding": 4, "titlePadding": 10, "labelFlush": false, "labelOverlap": false}}, "y": {"field": "y", "type": "quantitative", "scale": {"domain": [-0.7, 0.7], "nice": false}, "axis": {"values": [-0.7, -0.6, -0.5, -0.4, -0.3, -0.2, -0.1, 0, 0.1, 0.2, 0.3, 0.4, 0.5, 0.6, 0.7], "tickCount": 20, "labelExpr": "abs(round(datum.value*10)) % 2 == 1 ? format(datum.value, '.1f') : ''", "title": "相关系数", "tickSize": -2, "labelPadding": 3, "titlePadding": 15, "labelFlush": false, "labelOverlap": false}}}},
        {"data": {"name": "th"}, "transform": [{"filter": "datum.p == 'f'"}], "mark": {"type": "rule"},
         "encoding": {"x": {"field": "x0", "type": "quantitative"}, "x2": {"field": "x1"}, "y": {"field": "y", "type": "quantitative"}}}
      ]
    },
    {
      "width": 263, "height": 141,
      "title": {"text": "(g) 1.8阶微分"},
      "layer": [
        {"data": {"name": "g"}, "mark": {"type": "line", "clip": true},
         "encoding": {"x": {"field": "x", "type": "quantitative", "scale": {"domain": [400, 2470], "nice": false, "zero": false}, "axis": {"values": [400, 800, 1200, 1600, 2000, 2400], "format": "d", "title": "波长/nm", "tickSize": -3, "tickCount": 20, "labelPadding": 4, "titlePadding": 10, "labelFlush": false, "labelOverlap": false}}, "y": {"field": "y", "type": "quantitative", "scale": {"domain": [-0.7, 0.7], "nice": false}, "axis": {"values": [-0.7, -0.6, -0.5, -0.4, -0.3, -0.2, -0.1, 0, 0.1, 0.2, 0.3, 0.4, 0.5, 0.6, 0.7], "tickCount": 20, "labelExpr": "abs(round(datum.value*10)) % 2 == 1 ? format(datum.value, '.1f') : ''", "title": "相关系数", "tickSize": -2, "labelPadding": 3, "titlePadding": 15, "labelFlush": false, "labelOverlap": false}}}},
        {"data": {"name": "th"}, "transform": [{"filter": "datum.p == 'g'"}], "mark": {"type": "rule"},
         "encoding": {"x": {"field": "x0", "type": "quantitative"}, "x2": {"field": "x1"}, "y": {"field": "y", "type": "quantitative"}}}
      ]
    },
    {
      "width": 263, "height": 141,
      "title": {"text": "(h) 2阶微分"},
      "layer": [
        {"data": {"name": "h"}, "mark": {"type": "line", "clip": true},
         "encoding": {"x": {"field": "x", "type": "quantitative", "scale": {"domain": [400, 2450], "nice": false, "zero": false}, "axis": {"values": [400, 800, 1200, 1600, 2000, 2400], "format": "d", "title": "波长/nm", "tickSize": -3, "tickCount": 20, "labelPadding": 4, "titlePadding": 10, "labelFlush": false, "labelOverlap": false}}, "y": {"field": "y", "type": "quantitative", "scale": {"domain": [-0.7, 0.7], "nice": false}, "axis": {"values": [-0.7, -0.6, -0.5, -0.4, -0.3, -0.2, -0.1, 0, 0.1, 0.2, 0.3, 0.4, 0.5, 0.6, 0.7], "tickCount": 20, "labelExpr": "abs(round(datum.value*10)) % 2 == 1 ? format(datum.value, '.1f') : ''", "title": "相关系数", "tickSize": -2, "labelPadding": 3, "titlePadding": 15, "labelFlush": false, "labelOverlap": false}}}},
        {"data": {"name": "th"}, "transform": [{"filter": "datum.p == 'h'"}], "mark": {"type": "rule"},
         "encoding": {"x": {"field": "x0", "type": "quantitative"}, "x2": {"field": "x1"}, "y": {"field": "y", "type": "quantitative"}}}
      ]
    }
  ]
}
